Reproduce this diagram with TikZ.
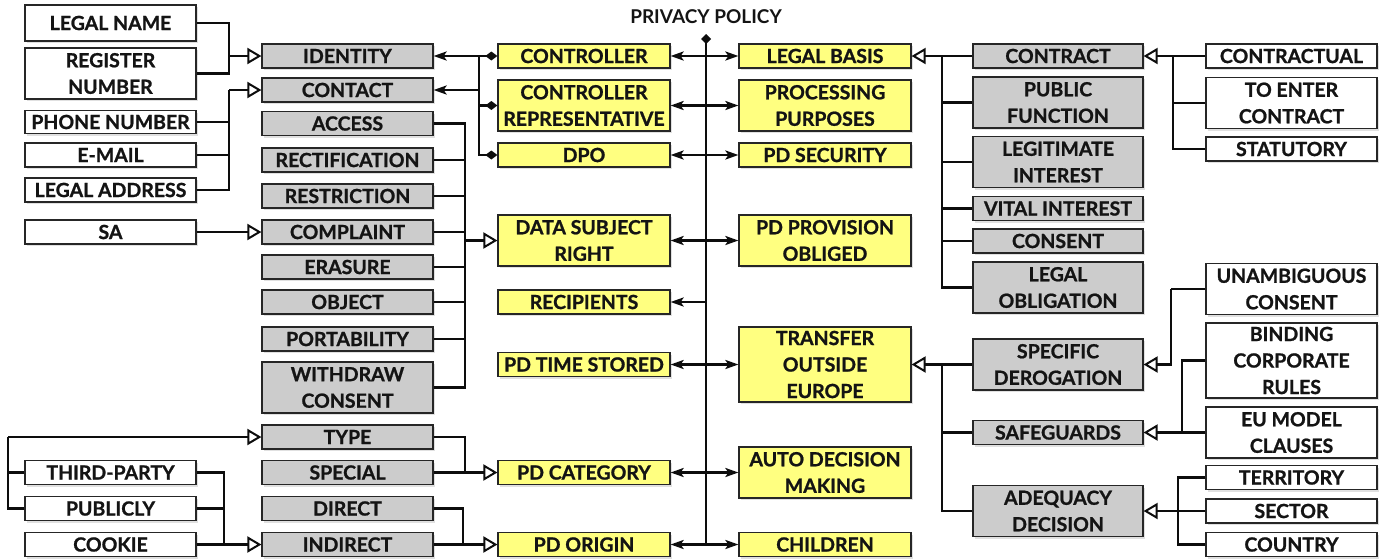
\documentclass[tikz,border=0pt]{standalone}
\usepackage{fontspec}
\setmainfont{Lato}[BoldFeatures={FakeBold=1.0}]
\newfontfamily\plainlato{Lato}
\usetikzlibrary{arrows.meta,shadows}
\definecolor{yel}{RGB}{255,255,128}
\definecolor{gry}{RGB}{204,204,204}
\newcommand\bx[6]{\node[#1, minimum width=#4pt, minimum height=#5pt] (#2) at (#3) {#6};}
\begin{document}
\begin{tikzpicture}[x=1pt,y=-1pt,
 box/.style={draw=black!85, line width=1.2pt, inner sep=0pt, align=center, text=black!92,
   font=\bfseries\fontsize{19.5}{26.5}\selectfont,
   drop shadow={shadow xshift=1.5pt, shadow yshift=-2pt, fill=black!12, opacity=1}},
 wb/.style={box, fill=white},
 gb/.style={box, fill=gry},
 yb/.style={box, fill=yel},
 conn/.style={line width=2.6pt, draw=black!95},
 gen/.style={conn, -{Triangle[open, length=14pt, width=16pt, line width=2pt]}},
 fa/.style={conn, -{Stealth[length=13pt, width=9pt, inset=3pt]}},
 dbl/.style={conn, {Stealth[length=13pt, width=9pt, inset=3pt]}-{Stealth[length=13pt, width=9pt, inset=3pt]}},
 dia/.style={conn, -{Diamond[length=12pt, width=9pt]}}
]
\fill[white] (0,0) rectangle (1384,558);
\path[use as bounding box] (0,0) rectangle (1384,558);

% left white column
\bx{wb}{lname}{110.5,23}{171}{36}{LEGAL NAME}
\bx{wb}{regnum}{110.5,73.5}{171}{51}{REGISTER\\NUMBER}
\bx{wb}{phone}{110.5,122}{171}{23}{PHONE NUMBER}
\bx{wb}{email}{110.5,155}{171}{24}{E-MAIL}
\bx{wb}{laddr}{110.5,190}{171}{24}{LEGAL ADDRESS}
\bx{wb}{sa}{110.5,232}{171}{24}{SA}
\bx{wb}{third}{110.5,472.5}{171}{24}{THIRD-PARTY}
\bx{wb}{publicly}{110.5,508.5}{171}{24}{PUBLICLY}
\bx{wb}{cookie}{110.5,544.5}{171}{24}{COOKIE}

% left gray column
\bx{gb}{identity}{347.5,56}{171}{24}{IDENTITY}
\bx{gb}{contact}{347.5,90}{171}{24}{CONTACT}
\bx{gb}{access}{347.5,123.5}{171}{24}{ACCESS}
\bx{gb}{rectif}{347.5,160}{171}{24}{RECTIFICATION}
\bx{gb}{restrict}{347.5,196}{171}{24}{RESTRICTION}
\bx{gb}{complaint}{347.5,232}{171}{24}{COMPLAINT}
\bx{gb}{erasure}{347.5,267}{171}{24}{ERASURE}
\bx{gb}{object}{347.5,302}{171}{24}{OBJECT}
\bx{gb}{portab}{347.5,339}{171}{24}{PORTABILITY}
\bx{gb}{withdraw}{347.5,387.5}{171}{51}{WITHDRAW\\CONSENT}
\bx{gb}{type}{347.5,437}{171}{24}{TYPE}
\bx{gb}{special}{347.5,472.5}{171}{24}{SPECIAL}
\bx{gb}{direct}{347.5,508.5}{171}{24}{DIRECT}
\bx{gb}{indirect}{347.5,544.5}{171}{24}{INDIRECT}

% left yellow column
\bx{yb}{controller}{584,56}{172}{24}{CONTROLLER}
\bx{yb}{ctrlrep}{584,105.5}{172}{51}{CONTROLLER\\REPRESENTATIVE}
\bx{yb}{dpo}{584,155}{172}{24}{DPO}
\bx{yb}{dsr}{584,240.5}{172}{51}{DATA SUBJECT\\RIGHT}
\bx{yb}{recipients}{584,302}{172}{24}{RECIPIENTS}
\bx{yb}{timestored}{584,364.5}{172}{24}{PD TIME STORED}
\bx{yb}{pdcat}{584,472.5}{172}{24}{PD CATEGORY}
\bx{yb}{pdorigin}{584,544.5}{172}{24}{PD ORIGIN}

% right yellow column
\bx{yb}{legalbasis}{825,56}{172}{24}{LEGAL BASIS}
\bx{yb}{procpurp}{825,105.5}{172}{51}{PROCESSING\\PURPOSES}
\bx{yb}{pdsec}{825,155}{172}{24}{PD SECURITY}
\bx{yb}{pdprov}{825,240.5}{172}{51}{PD PROVISION\\OBLIGED}
\bx{yb}{transfer}{825,364.5}{172}{75}{TRANSFER\\OUTSIDE\\EUROPE}
\bx{yb}{autodec}{825,472.5}{172}{51}{AUTO DECISION\\MAKING}
\bx{yb}{children}{825,544.5}{172}{24}{CHILDREN}

% right gray column
\bx{gb}{contract}{1058,56}{170}{24}{CONTRACT}
\bx{gb}{pubfun}{1058,102.5}{170}{51}{PUBLIC\\FUNCTION}
\bx{gb}{legint}{1058,162}{170}{51}{LEGITIMATE\\INTEREST}
\bx{gb}{vital}{1058,208.5}{170}{24}{VITAL INTEREST}
\bx{gb}{consent}{1058,241}{170}{24}{CONSENT}
\bx{gb}{legobl}{1058,287.5}{170}{51}{LEGAL\\OBLIGATION}
\bx{gb}{specder}{1058,364.5}{170}{51}{SPECIFIC\\DEROGATION}
\bx{gb}{safeg}{1058,432.5}{170}{24}{SAFEGUARDS}
\bx{gb}{adeq}{1058,511}{170}{51}{ADEQUACY\\DECISION}

% right white column
\bx{wb}{contractual}{1291.5,56}{171}{24}{CONTRACTUAL}
\bx{wb}{toenter}{1291.5,103}{171}{51}{TO ENTER\\CONTRACT}
\bx{wb}{statutory}{1291.5,149}{171}{24}{STATUTORY}
\bx{wb}{unamb}{1291.5,289}{171}{51}{UNAMBIGUOUS\\CONSENT}
\bx{wb}{bcr}{1291.5,360.5}{171}{75}{BINDING\\CORPORATE\\RULES}
\bx{wb}{eumodel}{1291.5,432.5}{171}{51}{EU MODEL\\CLAUSES}
\bx{wb}{territory}{1291.5,477.5}{171}{24}{TERRITORY}
\bx{wb}{sector}{1291.5,511}{171}{24}{SECTOR}
\bx{wb}{country}{1291.5,544.5}{171}{24}{COUNTRY}

% title
\node[font=\plainlato\bfseries\fontsize{19}{22}\selectfont, text=black!92] (pp) at (706,17) {PRIVACY POLICY};

% junction coordinates
\coordinate (j1) at (229,56);
\coordinate (j2) at (229,90);
\coordinate (j3) at (465,240.5);
\coordinate (j4) at (465,472.5);
\coordinate (j5) at (463,544.5);
\coordinate (j6) at (224,544.5);
\coordinate (j7) at (8,437);
\coordinate (cb) at (479,56);
\coordinate (ptop) at (706,34);
\coordinate (pbot) at (706,544.5);
\coordinate (j8) at (942,56);
\coordinate (j9) at (1173,56);
\coordinate (j10) at (1171,289);
\coordinate (j11) at (1182,432.5);
\coordinate (j12) at (1178,511);
\coordinate (j13) at (942,364.5);

% identity
\draw[conn] (lname.east) -| (j1);
\draw[conn] (regnum.east) -| (j1);
\draw[gen] (j1) -- (identity.west);
% contact
\draw[conn] (laddr.east) -| (j2);
\draw[conn] (phone.east) -- (phone.east -| j2);
\draw[conn] (email.east) -- (email.east -| j2);
\draw[gen] (j2) -- (contact.west);
% SA
\draw[gen] (sa.east) -- (complaint.west);
% rights
\draw[conn] (access.east) -| (j3);
\draw[conn] (withdraw.east) -| (j3);
\foreach \n in {rectif,restrict,complaint,erasure,object,portab}
  \draw[conn] (\n.east) -- (\n.east -| j3);
\draw[gen] (j3) -- (dsr.west);
% category
\draw[conn] (type.east) -| (j4);
\draw[gen] (special.east) -- (pdcat.west);
% origin
\draw[conn] (direct.east) -| (j5);
\draw[gen] (indirect.east) -- (pdorigin.west);
% indirect
\draw[conn] (third.east) -| (j6);
\draw[conn] (publicly.east) -- (publicly.east -| j6);
\draw[gen] (cookie.east) -- (indirect.west);
% type
\draw[conn] (publicly.west) -| (j7);
\draw[conn] (third.west) -- (third.west -| j7);
\draw[gen] (j7) -- (type.west);
% controller cluster
\draw[conn, {Stealth[length=13pt, width=9pt, inset=3pt]}-{Diamond[length=12pt, width=9pt]}] (identity.east) -- (controller.west);
\draw[dia] (cb) |- (ctrlrep.west);
\draw[dia] (cb) |- (dpo.west);
\draw[fa] (cb |- contact.east) -- (contact.east);
% central spine
\draw[conn, {Diamond[length=10pt, width=10pt]}-] (ptop) -- (pbot);
\draw[dbl] (controller.east) -- (legalbasis.west);
\draw[dbl] (ctrlrep.east) -- (procpurp.west);
\draw[dbl] (dpo.east) -- (pdsec.west);
\draw[dbl] (dsr.east) -- (pdprov.west);
\draw[fa] (ptop |- recipients.east) -- (recipients.east);
\draw[dbl] (timestored.east) -- (transfer.west);
\draw[dbl] (pdcat.east) -- (autodec.west);
\draw[dbl] (pdorigin.east) -- (children.west);
% legal basis
\draw[gen] (contract.west) -- (legalbasis.east);
\draw[conn] (legobl.west) -| (j8);
\foreach \n in {pubfun,legint,vital,consent}
  \draw[conn] (\n.west) -- (\n.west -| j8);
% contract
\draw[gen] (contractual.west) -- (contract.east);
\draw[conn] (statutory.west) -| (j9);
\draw[conn] (toenter.west) -- (toenter.west -| j9);
% specific derogation
\draw[conn] (unamb.west) -- (j10);
\draw[gen] (j10) |- (specder.east);
% safeguards
\draw[gen] (eumodel.west) -- (safeg.east);
\draw[conn] (bcr.west) -| (j11);
% adequacy
\draw[gen] (sector.west) -- (adeq.east);
\draw[conn] (territory.west) -| (j12);
\draw[conn] (country.west) -| (j12);
% transfer
\draw[gen] (specder.west) -- (transfer.east);
\draw[conn] (adeq.west) -| (j13);
\draw[conn] (safeg.west) -- (safeg.west -| j13);
\end{tikzpicture}
\end{document}
